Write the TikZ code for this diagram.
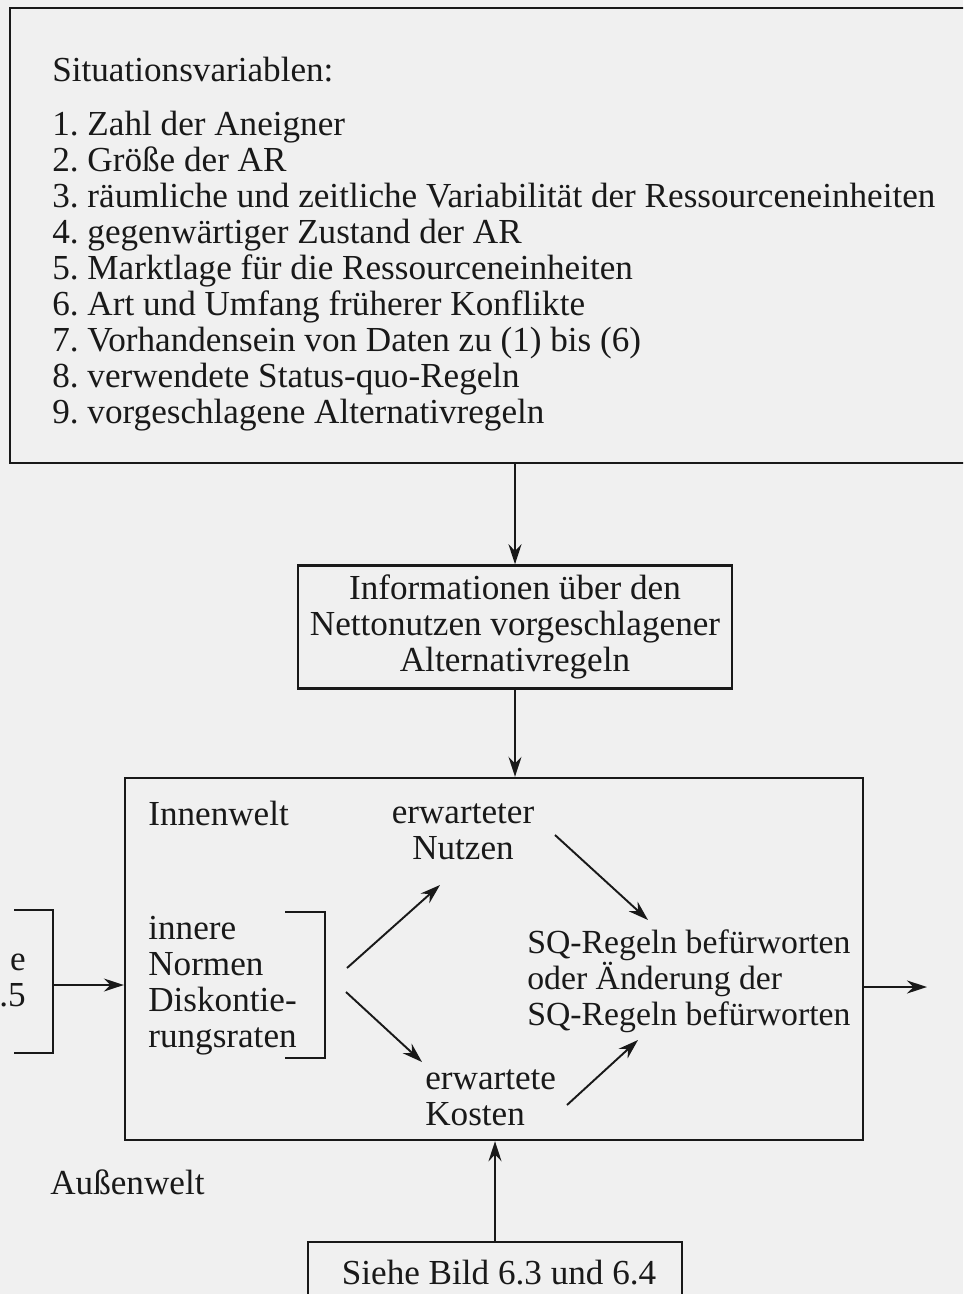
\documentclass[tikz,border=0pt]{standalone}
\usepackage{fontspec}
\setmainfont{Liberation Serif}
\usetikzlibrary{arrows.meta,positioning}
\frenchspacing

\begin{document}
\begin{tikzpicture}[x=0.02cm, y=-0.02cm, color=black!90,
  box/.style={draw, line width=1.4pt, rectangle, inner sep=0pt},
  txt/.style={inner sep=0pt, font=\fontsize{20}{20.5}\selectfont},
  pfeil/.style={-{Stealth[length=4mm, width=2.6mm]}, line width=1.1pt}]

\useasboundingbox (0,0) rectangle (963,1294);
\fill[black!6] (0,0) rectangle (963,1294);
\clip (0,0) rectangle (963,1294);

\node[box, minimum width=19.5cm, minimum height=9.1cm] (sit) at (497.5,235.5) {};
\node[txt, anchor=west] (sitkopf) at (52,70) {Situationsvariablen:};
\node[txt, anchor=west, align=left] (sitliste) at (52,271.5) {1. Zahl der Aneigner\\2. Größe der AR\\3. räumliche und zeitliche Variabilität der Ressourceneinheiten\\4. gegenwärtiger Zustand der AR\\5. Marktlage für die Ressourceneinheiten\\6. Art und Umfang früherer Konflikte\\7. Vorhandensein von Daten zu (1) bis (6)\\8. verwendete Status-quo-Regeln\\9. vorgeschlagene Alternativregeln};

\node[box, txt, align=center, minimum width=8.68cm, minimum height=2.46cm] (info) at (515,627) {Informationen über den\\Nettonutzen vorgeschlagener\\Alternativregeln};

\node[box, minimum width=14.76cm, minimum height=7.24cm] (haupt) at (494,959) {};
\node[txt, anchor=west] (innen) at (148,813) {Innenwelt};
\node[txt, align=center] (nutzen) at (463,832) {erwarteter\\Nutzen};
\node[txt, anchor=west, align=left] (normen) at (148,986) {innere\\Normen\\Diskontie-\\rungsraten};
\node[txt, anchor=west, align=left] (kosten) at (425,1098) {erwartete\\Kosten};
\node[txt, anchor=west, align=left, font=\fontsize{19.2}{20.5}\selectfont] (sq) at (527,981.5) {SQ-Regeln befürworten\\oder Änderung der\\SQ-Regeln befürworten};

\node[txt, anchor=west] (aussen) at (50,1182) {Außenwelt};
\node[txt, anchor=east, align=right] (rest) at (26,980) {e\\6.5};

\node[box, minimum width=7.48cm, minimum height=1.58cm, anchor=north] (siehe) at (495,1241) {};
\node[txt] (siehetext) at (499,1273) {Siehe Bild 6.3 und 6.4};

\coordinate (nrmoben) at (347,968);
\coordinate (nrmunten) at (346,992);
\coordinate (nutzenein) at (440,885);
\coordinate (kostenein) at (422,1062);
\coordinate (nutzenaus) at (555,835);
\coordinate (sqoben) at (648,920);
\coordinate (kostenaus) at (567,1105);
\coordinate (squnten) at (638,1040);
\coordinate (links) at (53,985);
\coordinate (rechts) at (927,987);

\draw[pfeil] (info.north |- sit.south) -- (info.north);
\draw[pfeil] (info.south) -- (info.south |- haupt.north);
\draw[pfeil] (siehe.north) -- (siehe.north |- haupt.south);

\draw[line width=1.1pt] (285,912) -| (325,1058) -- (285,1058);
\draw[line width=1.1pt] (14,910) -| (53,1053) -- (14,1053);

\draw[pfeil] (nrmoben) -- (nutzenein);
\draw[pfeil] (nrmunten) -- (kostenein);
\draw[pfeil] (nutzenaus) -- (sqoben);
\draw[pfeil] (kostenaus) -- (squnten);
\draw[pfeil] (links) -- (links -| haupt.west);
\draw[pfeil] (rechts -| haupt.east) -- (rechts);
\end{tikzpicture}
\end{document}
